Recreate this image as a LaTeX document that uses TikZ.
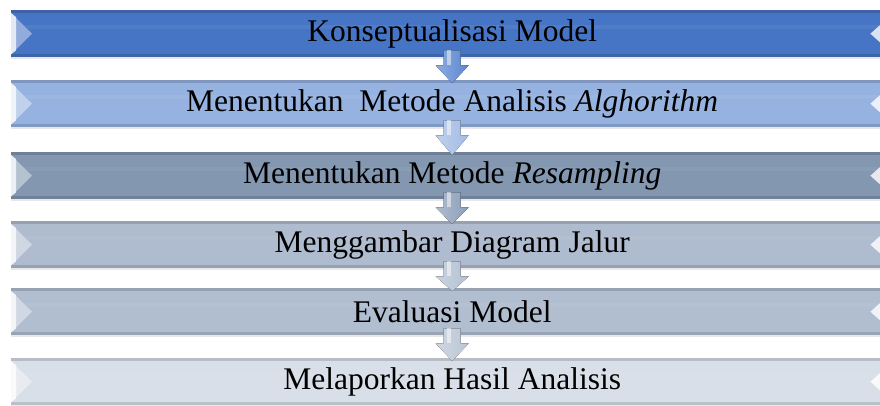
\documentclass[tikz,border=0pt]{standalone}
\usepackage{fontspec}
\setmainfont{Liberation Serif}
\usetikzlibrary{calc}
\definecolor{cA}{HTML}{4775C5}
\definecolor{cB}{HTML}{95B2E0}
\definecolor{cC}{HTML}{8397B1}
\definecolor{cD}{HTML}{AFBCCF}
\definecolor{cE}{HTML}{B1BED0}
\definecolor{cF}{HTML}{D8DFE8}
\definecolor{aA}{HTML}{5B88D2}
\definecolor{aB}{HTML}{A3BCE4}
\definecolor{aC}{HTML}{8C9FBA}
\definecolor{aD}{HTML}{B4C1D3}
\definecolor{aE}{HTML}{BBC6D5}
\tikzset{
  barbox/.style={minimum width=882pt, minimum height=47pt, inner sep=0pt, anchor=north west},
  bartext/.style={inner sep=0pt, font=\fontsize{31.5}{36}\selectfont, text=black},
}
\newcommand\mkbar[4]{%
  \node[barbox, fill=#3] (#1) at (11,#2) {};
  \fill[#3!85!black] (#1.north west) rectangle ($(#1.north east)+(0,2.5)$);
  \fill[#3!95!white] ($(#1.west)+(0,-9)$) rectangle ($(#1.east)+(0,-5)$);
  \fill[#3!86!black] ($(#1.south west)+(0,-3)$) rectangle (#1.south east);
  \fill[black!9] (#1.south west) rectangle ($(#1.south east)+(0,2)$);
  \fill[#3!60!white] ($(#1.north west)+(0,3)$) -- ($(#1.west)+(21,0)$) -- ($(#1.south west)+(0,-3)$) -- cycle;
  \fill[white!85!#3] ($(#1.north west)+(0,3)$) -- ($(#1.north west)+(5,7)$) -- ($(#1.south west)+(5,-7)$) -- ($(#1.south west)+(0,-3)$) -- cycle;
  \fill[white!80!#3] ($(#1.east)+(-13,-9)$) -- ($(#1.east)+(-23,0)$) -- ($(#1.east)+(-13,9)$) -- cycle;
  \node[bartext] (#1t) at (#1) {#4};
}
\newcommand\mkarrow[3]{%
  \fill[left color=#3!70!white, right color=#3] ($(#1.south)+(-8.5,-7)$) -- ($(#1.south)+(8.5,-7)$) -- ($(#1.south)+(8.5,8)$) -- ($(#1.south)+(16.5,8)$) -- ($(#2.north)+(0,3)$) -- ($(#1.south)+(-16.5,8)$) -- ($(#1.south)+(-8.5,8)$) -- cycle;
  \fill[white, opacity=0.5] ($(#1.south)+(-5.5,-7)$) rectangle ($(#1.south)+(-1.5,8)$);
}
\begin{document}
\begin{tikzpicture}[x=1pt,y=-1pt]
\useasboundingbox (0,0) rectangle (880,405);
\clip (0,0) rectangle (880,405);
\mkbar{b1}{10}{cA}{Konseptualisasi Model}
\mkbar{b2}{80}{cB}{Menentukan\ \ Metode Analisis \textit{Alghorithm}}
\mkbar{b3}{152}{cC}{Menentukan Metode \textit{Resampling}}
\mkbar{b4}{221}{cD}{Menggambar Diagram Jalur}
\mkbar{b5}{288}{cE}{Evaluasi Model}
\mkbar{b6}{358}{cF}{Melaporkan Hasil Analisis}
\mkarrow{b1}{b2}{aA}
\mkarrow{b2}{b3}{aB}
\mkarrow{b3}{b4}{aC}
\mkarrow{b4}{b5}{aD}
\mkarrow{b5}{b6}{aE}
\end{tikzpicture}
\end{document}
